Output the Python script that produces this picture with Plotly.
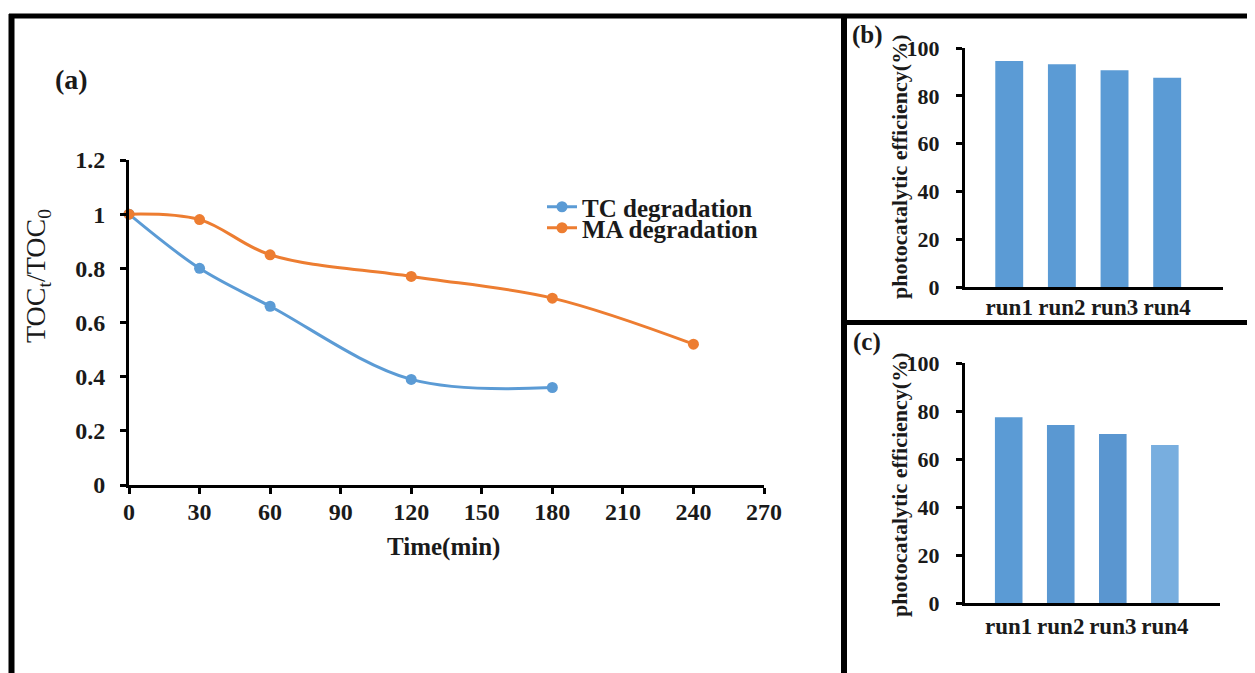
import plotly.graph_objects as go

# ---- data ----
tc_time = [0, 30, 60, 120, 180]
tc_toc = [1.0, 0.80, 0.66, 0.39, 0.36]
ma_time = [0, 30, 60, 120, 180, 240]
ma_toc = [1.0, 0.98, 0.85, 0.77, 0.69, 0.52]

runs = ["run1", "run2", "run3", "run4"]
eff_b = [94.6, 93.2, 90.7, 87.6]
eff_c = [77.4, 74.2, 70.4, 65.8]

x_ticks_a = [0, 30, 60, 90, 120, 150, 180, 210, 240, 270]
y_ticks_a = [0, 0.2, 0.4, 0.6, 0.8, 1.0, 1.2]
y_ticklabels_a = ["0", "0.2", "0.4", "0.6", "0.8", "1", "1.2"]
y_ticks_bc = [0, 20, 40, 60, 80, 100]

W, H = 1255, 673
OFF = 8  # page body margin
FONT = "Liberation Serif"
BLUE = "#5B9BD5"
ORANGE = "#ED7D31"
TXT = "#1a1a1a"


def px(x):
    return (x - OFF) / W


def py(y):
    return 1 - (y - OFF) / H


fig = go.Figure()

fig.add_trace(go.Scatter(
    x=tc_time, y=tc_toc, mode="lines+markers", name="TC degradation",
    line=dict(color=BLUE, width=3, shape="spline", smoothing=1.0),
    marker=dict(color=BLUE, size=11), cliponaxis=False,
    xaxis="x", yaxis="y", legend="legend"))
fig.add_trace(go.Scatter(
    x=ma_time, y=ma_toc, mode="lines+markers", name="MA degradation",
    line=dict(color=ORANGE, width=3, shape="spline", smoothing=1.0),
    marker=dict(color=ORANGE, size=11), cliponaxis=False,
    xaxis="x", yaxis="y", legend="legend2"))

fig.add_trace(go.Bar(
    x=runs, y=eff_b, marker=dict(color=BLUE, line=dict(width=0)),
    width=0.53, showlegend=False, xaxis="x2", yaxis="y2"))
fig.add_trace(go.Bar(
    x=runs, y=eff_c,
    marker=dict(color=["#5B9BD5", "#5A98D2", "#5A96D0", "#78AEDF"], line=dict(width=0)),
    width=0.53, showlegend=False, xaxis="x3", yaxis="y3"))

axis_common = dict(
    showline=True, linecolor="black", linewidth=3, showgrid=False, zeroline=False,
    ticks="outside", ticklen=6, tickwidth=2.5, tickcolor="black",
    tickfont=dict(family=FONT, size=24, color=TXT, weight="bold"),
)
small_tick = dict(family=FONT, size=22, color=TXT, weight="bold")
run_tick = dict(family=FONT, size=23, color=TXT, weight="bold")

fig.update_layout(
    width=W, height=H, margin=dict(l=0, r=0, t=0, b=0, pad=0, autoexpand=False),
    paper_bgcolor="white", plot_bgcolor="white",
    xaxis=dict(axis_common, domain=[px(129), px(764)], range=[0, 270],
               tickvals=x_ticks_a, anchor="y", ticklabelstandoff=-3),
    yaxis=dict(axis_common, domain=[py(485), py(160)], range=[0, 1.2],
               tickvals=y_ticks_a, ticktext=y_ticklabels_a, anchor="x",
               ticklabelstandoff=10),
    xaxis2=dict(axis_common, domain=[px(965), px(1223)], range=[-0.84, 4.06],
                ticks="", anchor="y2", ticklabelstandoff=-3, tickfont=run_tick),
    yaxis2=dict(axis_common, domain=[py(287), py(48)], range=[0, 100],
                tickvals=y_ticks_bc, anchor="x2", ticklabelstandoff=12,
                tickfont=small_tick),
    xaxis3=dict(axis_common, domain=[px(965), px(1220)], range=[-0.84, 4.06],
                ticks="", anchor="y3", ticklabelstandoff=0, tickfont=run_tick),
    yaxis3=dict(axis_common, domain=[py(603), py(363)], range=[0, 100],
                tickvals=y_ticks_bc, anchor="x3", ticklabelstandoff=12,
                tickfont=small_tick),
    legend=dict(x=px(542), y=py(207), xanchor="left", yanchor="middle",
                bgcolor="rgba(0,0,0,0)", borderwidth=0,
                font=dict(family=FONT, size=25, color=TXT, weight="bold")),
    legend2=dict(x=px(542), y=py(228), xanchor="left", yanchor="middle",
                 bgcolor="rgba(0,0,0,0)", borderwidth=0,
                 font=dict(family=FONT, size=25, color=TXT, weight="bold")),
)

# panel borders
border = dict(type="line", xref="paper", yref="paper", line=dict(color="black", width=5))
fig.add_shape(border, x0=px(9), y0=py(16), x1=px(W + OFF), y1=py(16))
fig.add_shape(border, x0=px(11.5), y0=py(14), x1=px(11.5), y1=py(H + OFF), line_width=6)
fig.add_shape(border, x0=px(844), y0=py(14), x1=px(844), y1=py(H + OFF), line_width=6)
fig.add_shape(border, x0=px(844), y0=py(322.5), x1=px(W + OFF), y1=py(322.5))

ann = dict(xref="paper", yref="paper", showarrow=False, xanchor="center", yanchor="middle")
fig.add_annotation(ann, x=px(71), y=py(80), text="(a)",
                   font=dict(family=FONT, size=28, color=TXT, weight="bold"))
fig.add_annotation(ann, x=px(867), y=py(35), text="(b)",
                   font=dict(family=FONT, size=25, color=TXT, weight="bold"))
fig.add_annotation(ann, x=px(867), y=py(342), text="(c)",
                   font=dict(family=FONT, size=25, color=TXT, weight="bold"))
fig.add_annotation(ann, x=px(38), y=py(276), text="TOC<sub>t</sub>/TOC<sub>0</sub>",
                   textangle=-90, font=dict(family=FONT, size=28, color=TXT))
fig.add_annotation(ann, x=px(443), y=py(547), text="Time(min)",
                   font=dict(family=FONT, size=25, color=TXT, weight="bold"))
fig.add_annotation(ann, x=px(899), y=py(166), text="photocatalytic efficiency(%)",
                   textangle=-90, font=dict(family=FONT, size=22, color=TXT, weight="bold"))
fig.add_annotation(ann, x=px(899), y=py(484), text="photocatalytic efficiency(%)",
                   textangle=-90, font=dict(family=FONT, size=22, color=TXT, weight="bold"))

fig.write_html("out.html")
